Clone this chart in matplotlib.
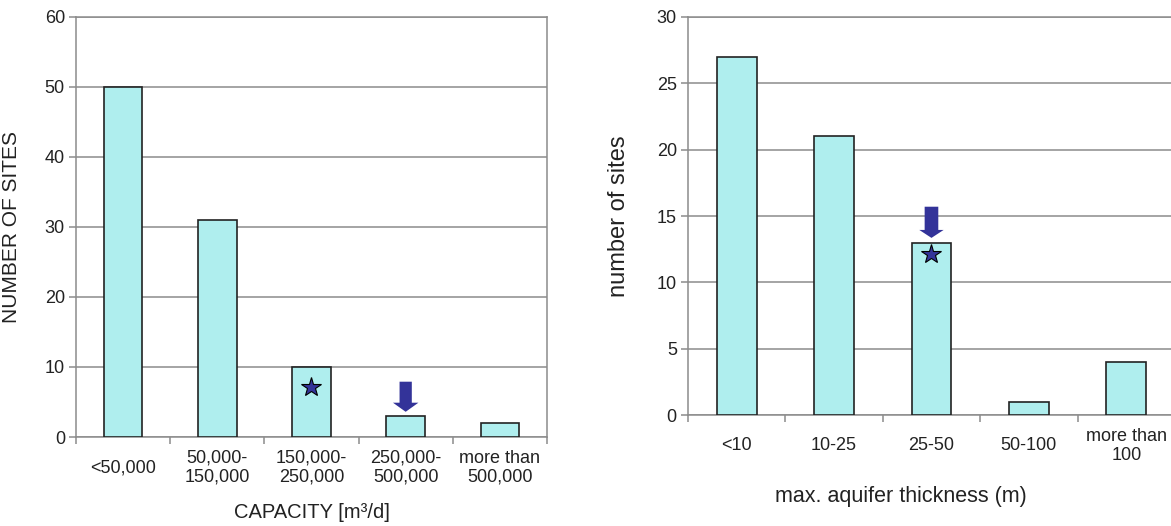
import matplotlib.pyplot as plt
from matplotlib.patches import FancyArrow

plt.rcParams['font.family'] = ['Liberation Sans', 'DejaVu Sans']

# datos de los dos histogramas
capacidad_cat = ['<50,000', '50,000-\n150,000', '150,000-\n250,000',
                 '250,000-\n500,000', 'more than\n500,000']
capacidad_sitios = [50, 31, 10, 3, 2]

espesor_cat = ['<10', '10-25', '25-50', '50-100', 'more than\n100']
espesor_sitios = [27, 21, 13, 1, 4]

# marcas: estrella dentro de una barra, flecha encima de otra
cap_estrella = (2, 7.1)
cap_flecha = (3, 7.9, 3.6)      # x, y inicio, y punta
esp_estrella = (2, 12.1)
esp_flecha = (2, 15.7, 13.35)

BARRA = '#afeeee'
AZUL = '#333399'
GRIS = '#8c8c8c'


def dibujar(ax, cats, vals, ymax, ystep, estrella, flecha, flecha_w, head_len):
    x = range(len(cats))
    ax.bar(x, vals, width=0.41, color=BARRA, edgecolor='#222222',
           linewidth=1.2, zorder=3)
    ax.set_xlim(-0.5, len(cats) - 0.5)
    ax.set_ylim(0, ymax)
    ax.set_yticks(range(0, ymax + 1, ystep))
    ax.grid(axis='y', color=GRIS, linewidth=1.1, zorder=0)
    for s in ax.spines.values():
        s.set_color(GRIS)
        s.set_linewidth(1.1)

    # marcas en los limites de categoria, etiquetas en el centro
    ax.set_xticks([i - 0.5 for i in range(len(cats) + 1)])
    ax.set_xticklabels([])
    ax.set_xticks(list(x), labels=cats, minor=True)
    ax.tick_params(axis='x', which='major', length=5, color=GRIS, width=1.1)
    ax.tick_params(axis='x', which='minor', length=0, pad=22,
                   labelsize=13, labelcolor='#222222')
    for lbl in ax.get_xticklabels(minor=True):
        lbl.set_va('center')
        lbl.set_linespacing(1.15)
    ax.tick_params(axis='y', length=5, color=GRIS, width=1.1, pad=3,
                   labelsize=13, labelcolor='#222222')

    ax.plot(estrella[0], estrella[1], marker='*', markersize=15,
            markerfacecolor=AZUL, markeredgecolor='black',
            markeredgewidth=0.8, zorder=5)
    fx, fy0, fy1 = flecha
    ax.add_patch(FancyArrow(fx, fy0, 0, fy1 - fy0, width=flecha_w[0],
                            head_width=flecha_w[1], head_length=head_len,
                            length_includes_head=True, color=AZUL,
                            linewidth=0, zorder=5))


fig = plt.figure(figsize=(11.71, 5.26), dpi=100)
ax1 = fig.add_axes([0.0649, 0.1692, 0.4022, 0.7985])
ax2 = fig.add_axes([0.5875, 0.2110, 0.4159, 0.7567])

dibujar(ax1, capacidad_cat, capacidad_sitios, 60, 10,
        cap_estrella, cap_flecha, (0.13, 0.27), 1.3)
ax1.set_ylabel('NUMBER OF SITES', fontsize=15, color='#222222')
ax1.yaxis.set_label_coords(-0.117, 0.5)
ax1.set_xlabel('CAPACITY [m³/d]', fontsize=14.5, color='#222222')
ax1.xaxis.set_label_coords(0.5, -0.179)
ax1.xaxis.label.set_va('center')

dibujar(ax2, espesor_cat, espesor_sitios, 30, 5,
        esp_estrella, esp_flecha, (0.14, 0.25), 0.6)
ax2.set_ylabel('number of sites', fontsize=17, color='#222222')
ax2.yaxis.set_label_coords(-0.119, 0.5)
ax2.set_xlabel('max. aquifer thickness (m)', fontsize=15.5, color='#222222')
ax2.xaxis.set_label_coords(0.437, -0.205)
ax2.xaxis.label.set_va('center')

plt.savefig('out.png', dpi=100)
